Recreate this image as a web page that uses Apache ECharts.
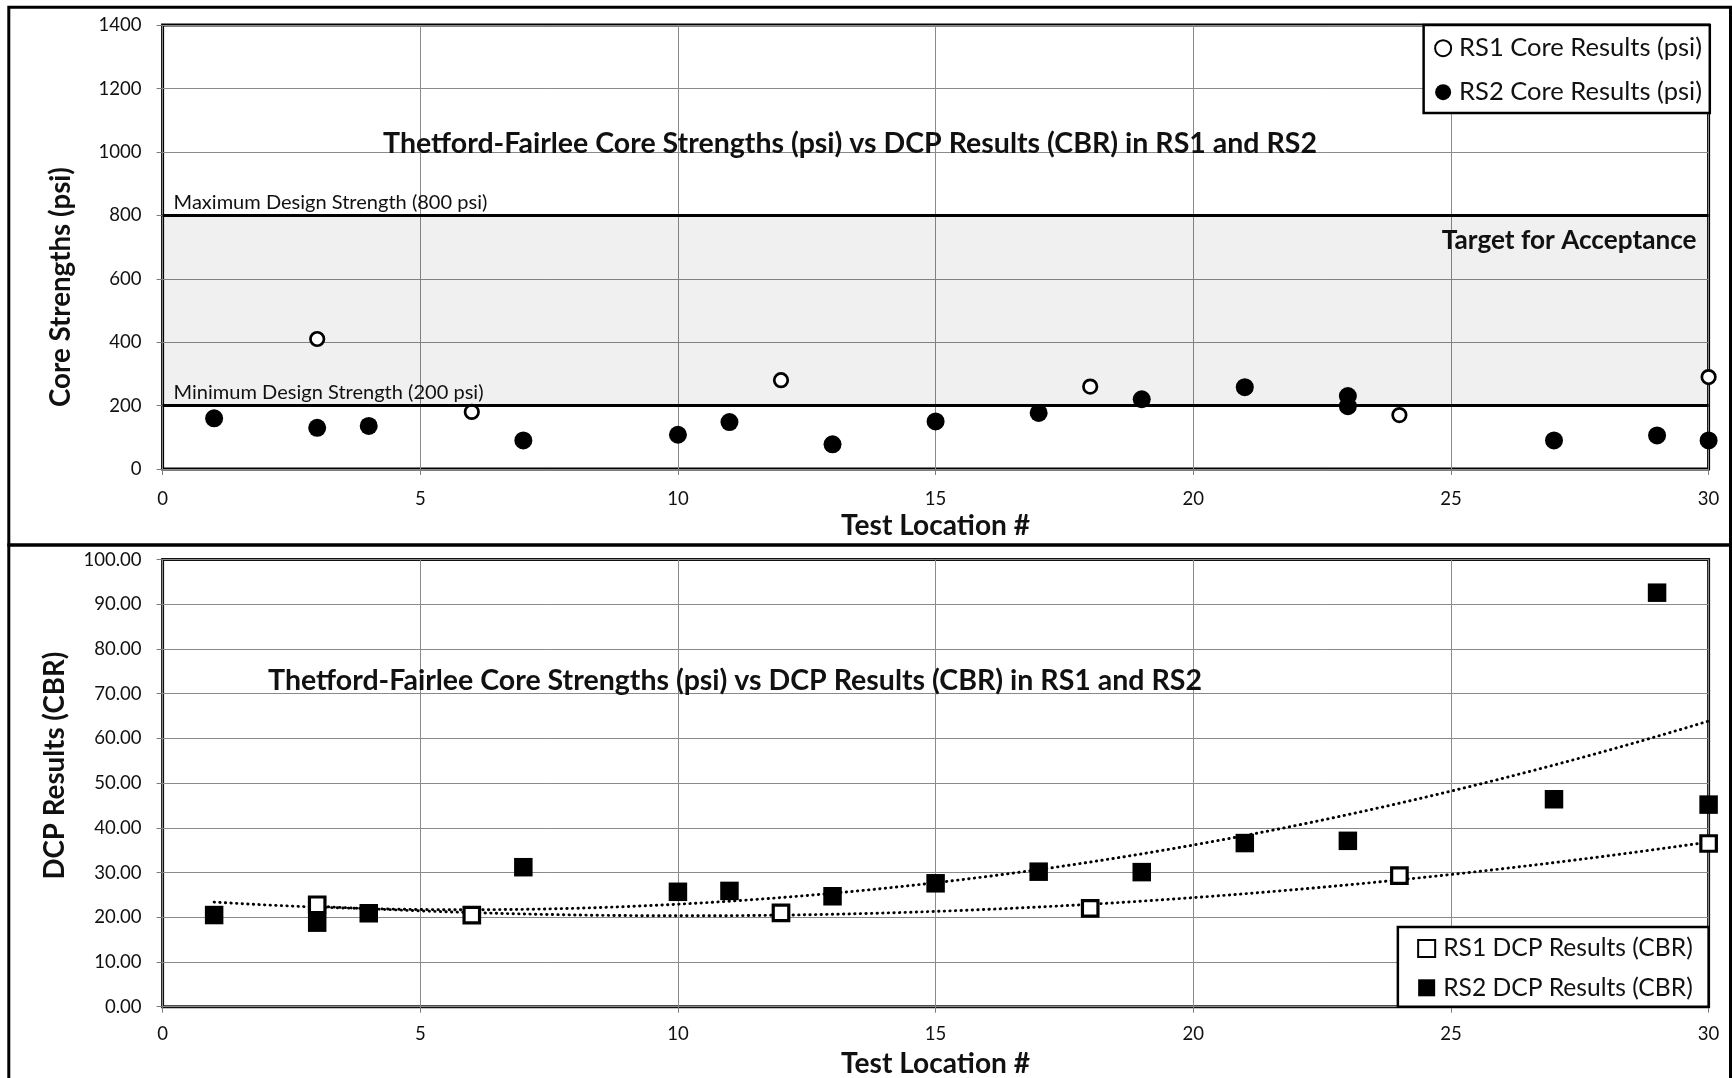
<!DOCTYPE html>
<html>
<head>
<meta charset="utf-8">
<title>Thetford-Fairlee Core Strengths vs DCP Results</title>
<script src="https://cdn.jsdelivr.net/npm/echarts@6/dist/echarts.min.js"></script>
<style>
  html, body { margin: 0; padding: 0; background: #ffffff; }
  #chart { width: 1732px; height: 1078px; }
</style>
</head>
<body>
<div id="chart"></div>
<script>
// ---- data -------------------------------------------------------------
const chartTitle = 'Thetford-Fairlee Core Strengths (psi) vs DCP Results (CBR) in RS1 and RS2';
const locationTitle = 'Test Location #';
const coreAxisTitle = 'Core Strengths (psi)';
const dcpAxisTitle = 'DCP Results (CBR)';

const locationTicks = [0, 5, 10, 15, 20, 25, 30];
const coreTicks = [0, 200, 400, 600, 800, 1000, 1200, 1400];
const dcpTicks = [0, 10, 20, 30, 40, 50, 60, 70, 80, 90, 100];

const rs1CoreLocations = [3, 6, 12, 18, 24, 30];
const rs1CorePsi = [410, 180, 280, 260, 170, 290];

const rs2CoreLocations = [1, 3, 4, 7, 10, 11, 13, 15, 17, 19, 21, 23, 23, 27, 29, 30];
const rs2CorePsi = [160, 130, 136, 90, 108, 148, 78, 150, 177, 220, 258, 230, 198, 90, 106, 90];

const rs1DcpLocations = [3, 6, 12, 18, 24, 30];
const rs1DcpCbr = [22.8, 20.5, 21.0, 22.0, 29.3, 36.5];

const rs2DcpLocations = [1, 3, 4, 7, 10, 11, 13, 15, 17, 19, 21, 23, 27, 29, 30];
const rs2DcpCbr = [20.5, 18.8, 20.9, 31.2, 25.7, 25.9, 24.7, 27.6, 30.2, 30.1, 36.6, 37.1, 46.4, 92.6, 45.2];

const minDesignPsi = 200;
const maxDesignPsi = 800;
const minDesignLabel = 'Minimum Design Strength (200 psi)';
const maxDesignLabel = 'Maximum Design Strength (800 psi)';
const targetLabel = 'Target for Acceptance';

const coreLegend = ['RS1 Core Results (psi)', 'RS2 Core Results (psi)'];
const dcpLegend = ['RS1 DCP Results (CBR)', 'RS2 DCP Results (CBR)'];

// ---- helpers ----------------------------------------------------------
const FONT = 'Lato, "Open Sans", "DejaVu Sans", sans-serif';
const measureCtx = document.createElement('canvas').getContext('2d');
// font size that makes a string span the given width
function fitSize(text, width, weight) {
  measureCtx.font = (weight || 'normal') + ' 100px ' + FONT;
  return +(100 * width / measureCtx.measureText(text).width).toFixed(2);
}
function pairs(xs, ys) { return xs.map((x, i) => [x, ys[i]]); }

// second-order least-squares trendline, sampled across the data range
function quadTrend(xs, ys) {
  const s = [0, 0, 0, 0, 0], t = [0, 0, 0];
  xs.forEach((x, i) => {
    for (let k = 0; k < 5; k++) s[k] += Math.pow(x, k);
    for (let k = 0; k < 3; k++) t[k] += ys[i] * Math.pow(x, k);
  });
  const det3 = m => m[0][0] * (m[1][1] * m[2][2] - m[1][2] * m[2][1])
                  - m[0][1] * (m[1][0] * m[2][2] - m[1][2] * m[2][0])
                  + m[0][2] * (m[1][0] * m[2][1] - m[1][1] * m[2][0]);
  const M = [[s[0], s[1], s[2]], [s[1], s[2], s[3]], [s[2], s[3], s[4]]];
  const D = det3(M);
  const coef = [0, 1, 2].map(c => det3(M.map((row, r) => row.map((v, j) => (j === c ? t[r] : v)))) / D);
  const lo = Math.min(...xs), hi = Math.max(...xs), pts = [];
  for (let x = lo; x <= hi + 1e-9; x += 0.25) pts.push([x, coef[0] + coef[1] * x + coef[2] * x * x]);
  return pts;
}

// ---- text sizes ---------------------------------------------------------
const titleSize = fitSize(chartTitle, 934, 'bold');
const locTitleSize = fitSize(locationTitle, 189, 'bold');
const coreTitleSize = fitSize(coreAxisTitle, 240, 'bold');
const dcpTitleSize = fitSize(dcpAxisTitle, 228, 'bold');
const tickSize = (fitSize('1400', 43) + fitSize('100.00', 58.4)) / 2;
const coreLegendSize = fitSize(coreLegend[0], 243);
const dcpLegendSize = fitSize(dcpLegend[0], 249.5);
const limitSize = fitSize(maxDesignLabel, 314);
const targetSize = fitSize(targetLabel, 255, 'bold');

// ---- layout -----------------------------------------------------------
const plotLeft = 162.6, plotRight = 1708.6;
const topGrid = { left: plotLeft, top: 25.1, width: plotRight - plotLeft, height: 469 - 25.1 };
const botGrid = { left: plotLeft, top: 559.6, width: plotRight - plotLeft, height: 1006.7 - 559.6 };

const gridLine = { show: true, lineStyle: { color: '#8a8a8a', width: 1 } };
const tickStyle = { show: true, length: 6, lineStyle: { color: '#7a7a7a', width: 1 } };
const labelBase = { color: '#111', fontFamily: FONT, fontSize: tickSize };

function xAxis(gridIndex, margin) {
  return {
    type: 'value', gridIndex, min: locationTicks[0], max: locationTicks[locationTicks.length - 1],
    interval: locationTicks[1] - locationTicks[0],
    axisLine: { show: false }, axisTick: tickStyle, splitLine: gridLine,
    axisLabel: Object.assign({ margin, formatter: v => String(v) }, labelBase)
  };
}

const chart = echarts.init(document.getElementById('chart'), null, { renderer: 'canvas' });

const option = {
  animation: false,
  backgroundColor: '#ffffff',
  grid: [
    Object.assign({ show: true, borderColor: '#000', borderWidth: 3, backgroundColor: 'transparent' }, topGrid),
    Object.assign({ show: true, borderColor: '#111', borderWidth: 3, backgroundColor: 'transparent' }, botGrid)
  ],
  xAxis: [xAxis(0, 20), xAxis(1, 18)],
  yAxis: [
    {
      type: 'value', gridIndex: 0, min: coreTicks[0], max: coreTicks[coreTicks.length - 1],
      interval: coreTicks[1] - coreTicks[0],
      axisLine: { show: false }, axisTick: tickStyle, splitLine: gridLine,
      axisLabel: Object.assign({ margin: 21, formatter: v => String(v) }, labelBase)
    },
    {
      type: 'value', gridIndex: 1, min: dcpTicks[0], max: dcpTicks[dcpTicks.length - 1],
      interval: dcpTicks[1] - dcpTicks[0],
      axisLine: { show: false }, axisTick: tickStyle, splitLine: gridLine,
      axisLabel: Object.assign({ margin: 21, formatter: v => v.toFixed(2) }, labelBase)
    }
  ],
  legend: [
    {
      data: coreLegend, orient: 'vertical', right: 1732 - 1709.8, top: 25.1,
      padding: [8.1, 7.8, 5.7, 10.5], itemGap: 14, itemWidth: 16, itemHeight: 16,
      backgroundColor: '#fff', borderColor: '#000', borderWidth: 2.5, borderRadius: 0,
      textStyle: { fontFamily: FONT, fontSize: coreLegendSize, color: '#111', lineHeight: 30, padding: [0, 0, 0, 3] },
      selectedMode: false, z: 20
    },
    {
      data: dcpLegend, orient: 'vertical', right: 1732 - 1708.6, top: 927.1,
      padding: [6.3, 15.9, 3.9, 19.3], itemGap: 9.4, itemWidth: 17, itemHeight: 17,
      backgroundColor: '#fff', borderColor: '#000', borderWidth: 2.5, borderRadius: 0,
      textStyle: { fontFamily: FONT, fontSize: dcpLegendSize, color: '#111', lineHeight: 30, padding: [0, 0, 0, 3] },
      selectedMode: false, z: 20
    }
  ],
  series: [
    // acceptance band and design limits
    {
      type: 'scatter', name: 'design limits', xAxisIndex: 0, yAxisIndex: 0, data: [], z: 1, silent: true,
      markArea: {
        silent: true,
        itemStyle: { color: 'rgba(0,0,0,0.06)' },
        label: {
          show: true, position: 'insideTopRight', distance: 12, formatter: targetLabel,
          fontFamily: FONT, fontWeight: 'bold', fontSize: targetSize, color: '#111'
        },
        data: [[{ yAxis: minDesignPsi }, { yAxis: maxDesignPsi }]]
      },
      markLine: {
        silent: true, symbol: ['none', 'none'],
        lineStyle: { color: '#000', width: 3, type: 'solid' },
        label: {
          show: true, position: 'insideStartTop', distance: [11, 3],
          fontFamily: FONT, fontSize: limitSize, color: '#111'
        },
        data: [
          { yAxis: maxDesignPsi, label: { formatter: maxDesignLabel } },
          { yAxis: minDesignPsi, label: { formatter: minDesignLabel } }
        ]
      }
    },
    {
      type: 'scatter', name: coreLegend[1], xAxisIndex: 0, yAxisIndex: 0, z: 3,
      symbol: 'circle', symbolSize: 18,
      itemStyle: { color: '#000', borderColor: '#000', borderWidth: 0, opacity: 1 },
      data: pairs(rs2CoreLocations, rs2CorePsi)
    },
    {
      type: 'scatter', name: coreLegend[0], xAxisIndex: 0, yAxisIndex: 0, z: 4,
      symbol: 'circle', symbolSize: 13.5,
      itemStyle: { color: '#fff', borderColor: '#000', borderWidth: 2.7, opacity: 1 },
      data: pairs(rs1CoreLocations, rs1CorePsi)
    },
    // DCP chart: trendlines first, markers on top
    {
      type: 'line', name: 'rs2 trend', xAxisIndex: 1, yAxisIndex: 1, z: 2, silent: true,
      showSymbol: false, symbol: 'none', smooth: false,
      lineStyle: { color: '#000', width: 2.9, type: [0.4, 5.2], cap: 'round' },
      data: quadTrend(rs2DcpLocations, rs2DcpCbr)
    },
    {
      type: 'line', name: 'rs1 trend', xAxisIndex: 1, yAxisIndex: 1, z: 2, silent: true,
      showSymbol: false, symbol: 'none', smooth: false,
      lineStyle: { color: '#000', width: 2.9, type: [0.4, 5.2], cap: 'round' },
      data: quadTrend(rs1DcpLocations, rs1DcpCbr)
    },
    {
      type: 'scatter', name: dcpLegend[1], xAxisIndex: 1, yAxisIndex: 1, z: 3,
      symbol: 'rect', symbolSize: 18.5,
      itemStyle: { color: '#000', borderColor: '#000', borderWidth: 0, opacity: 1 },
      data: pairs(rs2DcpLocations, rs2DcpCbr)
    },
    {
      type: 'scatter', name: dcpLegend[0], xAxisIndex: 1, yAxisIndex: 1, z: 4,
      symbol: 'rect', symbolSize: 15.5,
      itemStyle: { color: '#fff', borderColor: '#000', borderWidth: 3.2, opacity: 1 },
      data: pairs(rs1DcpLocations, rs1DcpCbr)
    }
  ],
  graphic: [
    // chart frames
    { type: 'rect', z: 50, silent: true, shape: { x: 8.8, y: 7.3, width: 1721.7, height: 537.7 },
      style: { fill: 'none', stroke: '#000', lineWidth: 3 } },
    { type: 'rect', z: 50, silent: true, shape: { x: 8.8, y: 545, width: 1721.7, height: 600 },
      style: { fill: 'none', stroke: '#000', lineWidth: 3 } },
    // chart titles
    { type: 'text', z: 30, silent: true, x: 850, y: 144,
      style: { text: chartTitle, font: 'bold ' + titleSize + 'px ' + FONT, fill: '#111', textAlign: 'center', textVerticalAlign: 'middle' } },
    { type: 'text', z: 30, silent: true, x: 735, y: 681,
      style: { text: chartTitle, font: 'bold ' + titleSize + 'px ' + FONT, fill: '#111', textAlign: 'center', textVerticalAlign: 'middle' } },
    // axis titles
    { type: 'text', z: 30, silent: true, x: 935.6, y: 526,
      style: { text: locationTitle, font: 'bold ' + locTitleSize + 'px ' + FONT, fill: '#111', textAlign: 'center', textVerticalAlign: 'middle' } },
    { type: 'text', z: 30, silent: true, x: 935.6, y: 1063.5,
      style: { text: locationTitle, font: 'bold ' + locTitleSize + 'px ' + FONT, fill: '#111', textAlign: 'center', textVerticalAlign: 'middle' } },
    { type: 'text', z: 30, silent: true, x: 61, y: 287, rotation: Math.PI / 2,
      style: { text: coreAxisTitle, font: 'bold ' + coreTitleSize + 'px ' + FONT, fill: '#111', textAlign: 'center', textVerticalAlign: 'middle' } },
    { type: 'text', z: 30, silent: true, x: 55, y: 765.6, rotation: Math.PI / 2,
      style: { text: dcpAxisTitle, font: 'bold ' + dcpTitleSize + 'px ' + FONT, fill: '#111', textAlign: 'center', textVerticalAlign: 'middle' } }
  ]
};

chart.setOption(option);
</script>
</body>
</html>
